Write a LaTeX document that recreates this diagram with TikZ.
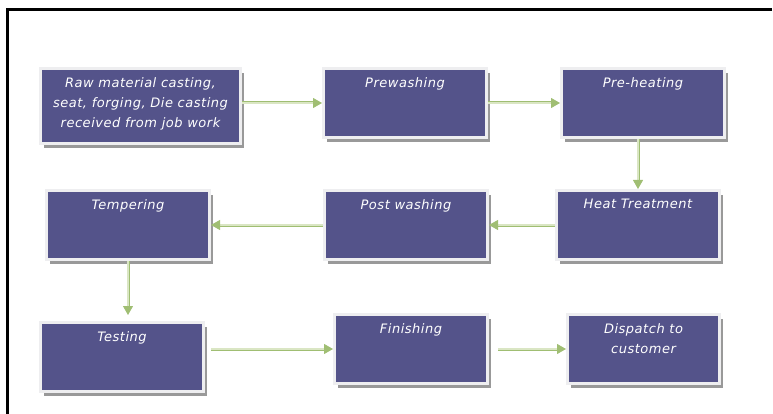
\documentclass[tikz,border=0pt]{standalone}
\usepackage{fontspec}
\newfontfamily\stagefont[LetterSpace=4]{DejaVu Sans}
\usetikzlibrary{arrows.meta, shadows}

\definecolor{stageblue}{RGB}{84,83,138}
\definecolor{stagerim}{RGB}{238,238,240}
\definecolor{flowgreen}{RGB}{160,190,115}
\definecolor{flowlight}{RGB}{218,230,196}

\begin{document}
\begin{tikzpicture}[
    x=1pt, y=-1pt,
    stage/.style={rectangle, fill=stageblue, draw=stagerim, line width=3pt,
        minimum width=163pt, minimum height=69pt,
        drop shadow={shadow xshift=3pt, shadow yshift=-4.5pt, fill=black!40, opacity=1}},
    stagetext/.style={anchor=north, yshift=-10pt, inner sep=0pt,
        text=white, align=center, font=\stagefont\itshape\fontsize{13}{20}\selectfont},
    flow/.style={draw=flowgreen, line width=0.8pt, double=flowlight, double distance=1.4pt,
        -{Triangle[length=9pt, width=10pt, fill=flowgreen]}},
]
    \useasboundingbox (0,0) rectangle (773,414);
    \draw[line width=3pt] (772,10) -- (7,10) -- (7,414);

    % first row
    \node[stage, minimum width=200pt, minimum height=75pt,
          label={[stagetext]north:{Raw material casting,\\seat, forging, Die casting\\received from job work}}]
          (raw) at (140.5,106) {};
    \node[stage, label={[stagetext]north:Prewashing}]     (prewash)  at (405,103) {};
    \node[stage, label={[stagetext]north:Pre-heating}]    (preheat)  at (643,103) {};

    % second row
    \node[stage, label={[stagetext]north:Heat Treatment}] (heat)     at (638,225) {};
    \node[stage, label={[stagetext]north:Post washing}]   (postwash) at (406,225) {};
    \node[stage, label={[stagetext]north:Tempering}]      (temper)   at (128,225) {};

    % third row
    \node[stage, label={[stagetext]north:Testing}]        (testing)  at (122,357) {};
    \node[stage, minimum width=153pt,
          label={[stagetext]north:Finishing}]             (finish)   at (411,349) {};
    \node[stage, minimum width=152pt,
          label={[stagetext]north:{Dispatch to\\customer}}] (dispatch) at (643.5,349) {};

    \draw[flow] (raw.east |- prewash) -- (prewash.west);
    \draw[flow] (prewash) -- (preheat);
    \draw[flow] (heat.north |- preheat.south) -- (heat.north);
    \draw[flow] (heat) -- (postwash);
    \draw[flow] (postwash) -- (temper);
    \draw[flow, shorten >=6pt] (temper.south) -- (temper.south |- testing.north);
    \draw[flow, shorten <=6pt] (testing.east |- finish) -- (finish.west);
    \draw[flow, shorten <=9pt] (finish) -- (dispatch);
\end{tikzpicture}
\end{document}
